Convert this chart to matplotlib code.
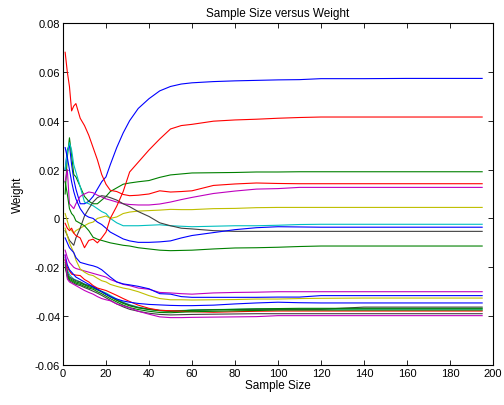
import matplotlib
matplotlib.use("Agg")
import matplotlib.pyplot as plt
from matplotlib.ticker import FuncFormatter

plt.rcParams['font.family'] = ['Liberation Sans', 'DejaVu Sans']
plt.rcParams['axes.unicode_minus'] = False

sample = [1, 2, 3, 4, 5, 6, 8, 10, 12, 14, 16, 18, 20, 22, 25, 28, 31, 35, 40,
          45, 50, 55, 60, 70, 80, 90, 100, 110, 120, 140, 160, 180, 195]

# MATLAB default colour order
C_B = (0, 0, 1)
C_G = (0, 0.5, 0)
C_R = (1, 0, 0)
C_C = (0, 0.75, 0.75)
C_M = (0.75, 0, 0.75)
C_Y = (0.75, 0.75, 0)
C_K = (0.25, 0.25, 0.25)

blue1 = [0.020, 0.028, 0.030, 0.022, 0.016, 0.012, 0.006, 0.006, 0.007, 0.009, 0.012, 0.015, 0.017,
         0.022, 0.029, 0.035, 0.040, 0.045, 0.049, 0.0522, 0.0540, 0.055, 0.0555, 0.056, 0.0563,
         0.0565, 0.0567, 0.0568, 0.0572, 0.0572, 0.0573, 0.0573, 0.0573]
redA = [0.068, 0.060, 0.054, 0.044, 0.046, 0.047, 0.041, 0.038, 0.034, 0.029, 0.024, 0.018, 0.014,
        0.0115, 0.011, 0.0098, 0.0093, 0.0095, 0.010, 0.0113, 0.0108, 0.011, 0.0113, 0.0135, 0.0141,
        0.0145, 0.0143, 0.0142, 0.0142, 0.0142, 0.0142, 0.0142, 0.0142]
redB = [-0.002, -0.004, -0.005, -0.004, -0.006, -0.007, -0.008, -0.012, -0.009, -0.0085, -0.010,
        -0.008, -0.0056, 0.0, 0.005, 0.011, 0.019, 0.023, 0.028, 0.0325, 0.0366, 0.038, 0.0385,
        0.0398, 0.0403, 0.0406, 0.041, 0.0413, 0.0415, 0.0415, 0.0415, 0.0415, 0.0415]
green1 = [0.010, 0.025, 0.033, 0.026, 0.018, 0.017, 0.013, 0.009, 0.007, 0.006, 0.006, 0.0075, 0.009,
          0.011, 0.0125, 0.014, 0.0145, 0.015, 0.0155, 0.0168, 0.0178, 0.0182, 0.0186, 0.0187,
          0.0188, 0.019, 0.019, 0.0191, 0.0191, 0.0191, 0.0191, 0.0191, 0.0191]
magenta1 = [0.015, 0.020, 0.006, 0.005, 0.004, 0.006, 0.009, 0.010, 0.0108, 0.0105, 0.0095, 0.0088,
            0.008, 0.0075, 0.0067, 0.006, 0.0057, 0.0055, 0.0055, 0.0059, 0.0067, 0.0077, 0.0086,
            0.0102, 0.0112, 0.012, 0.0122, 0.0127, 0.0127, 0.0127, 0.0127, 0.0127, 0.0127]
yellow1 = [0.002, -0.001, -0.004, -0.005, -0.006, -0.005, -0.004, -0.003, -0.002, -0.0015, 0.0,
           0.0005, 0.001, 0.0, 0.0006, 0.002, 0.0026, 0.003, 0.0032, 0.0034, 0.0037, 0.0036, 0.0036,
           0.004, 0.0041, 0.0044, 0.0045, 0.0045, 0.0045, 0.0045, 0.0045, 0.0045, 0.0045]
cyan1 = [0.020, 0.027, 0.031, 0.028, 0.022, 0.019, 0.013, 0.0067, 0.006, 0.0052, 0.004, 0.0028, 0.002,
         0.0, -0.0018, -0.003, -0.003, -0.003, -0.0028, -0.0026, -0.003, -0.0032, -0.0034, -0.0032,
         -0.003, -0.003, -0.0028, -0.0025, -0.0024, -0.0024, -0.0024, -0.0024, -0.0024]
blue2 = [0.029, 0.025, 0.020, 0.015, 0.011, 0.008, 0.004, 0.0015, 0.0005, 0.0, -0.0015, -0.0025,
         -0.004, -0.0056, -0.007, -0.0084, -0.0092, -0.0098, -0.0098, -0.0096, -0.0092, -0.008,
         -0.007, -0.0058, -0.0046, -0.0038, -0.0034, -0.0035, -0.0036, -0.0036, -0.0036, -0.0036, -0.0036]
gray1 = [-0.005, -0.007, -0.009, -0.010, -0.011, -0.008, -0.004, 0.001, 0.004, 0.0067, 0.0085, 0.0093,
         0.009, 0.0085, 0.0075, 0.006, 0.0048, 0.0028, 0.0008, -0.0018, -0.003, -0.004, -0.0043,
         -0.005, -0.0053, -0.0053, -0.0053, -0.0053, -0.0053, -0.0053, -0.0053, -0.0053, -0.0053]
green2 = [0.015, 0.010, 0.004, 0.002, 0.001, -0.001, -0.002, -0.003, -0.005, -0.0077, -0.0085, -0.009,
          -0.0095, -0.010, -0.0105, -0.011, -0.0113, -0.012, -0.0125, -0.013, -0.0132, -0.0131,
          -0.013, -0.0125, -0.0121, -0.012, -0.0118, -0.0115, -0.0113, -0.0113, -0.0113, -0.0113, -0.0113]
magenta2 = [-0.013, -0.016, -0.018, -0.019, -0.020, -0.0205, -0.021, -0.0215, -0.022, -0.0225, -0.023,
            -0.0235, -0.024, -0.025, -0.026, -0.027, -0.0275, -0.0285, -0.029, -0.0303, -0.0305,
            -0.0308, -0.031, -0.0305, -0.0303, -0.0302, -0.030, -0.030, -0.030, -0.030, -0.030, -0.030, -0.030]
blue3 = [-0.008, -0.010, -0.012, -0.013, -0.014, -0.016, -0.018, -0.0185, -0.019, -0.0194, -0.020,
         -0.021, -0.0225, -0.024, -0.026, -0.0268, -0.0272, -0.0278, -0.0288, -0.0308, -0.031, -0.032,
         -0.0323, -0.0323, -0.0323, -0.0323, -0.0322, -0.0322, -0.0316, -0.0316, -0.0316, -0.0316, -0.0316]
yellow2 = [-0.004, -0.007, -0.010, -0.012, -0.014, -0.017, -0.0207, -0.022, -0.023, -0.0234, -0.0245,
           -0.0255, -0.026, -0.027, -0.0278, -0.0285, -0.029, -0.030, -0.0316, -0.0328, -0.0333,
           -0.0333, -0.0334, -0.0333, -0.0332, -0.033, -0.033, -0.0328, -0.0327, -0.0326, -0.0326,
           -0.0326, -0.0326]
blue4 = [-0.015, -0.019, -0.021, -0.022, -0.023, -0.024, -0.025, -0.026, -0.027, -0.028, -0.029,
         -0.030, -0.031, -0.032, -0.033, -0.0338, -0.0343, -0.0348, -0.0352, -0.0354, -0.0356,
         -0.0357, -0.0357, -0.0355, -0.035, -0.0346, -0.0343, -0.0345, -0.0346, -0.0346, -0.0346,
         -0.0346, -0.0346]
gray2 = [-0.017, -0.022, -0.024, -0.0245, -0.025, -0.0255, -0.026, -0.027, -0.0275, -0.028, -0.029,
         -0.030, -0.031, -0.032, -0.0335, -0.0345, -0.0355, -0.0365, -0.0372, -0.0377, -0.038,
         -0.0378, -0.0376, -0.0374, -0.0373, -0.0372, -0.0372, -0.0372, -0.0372, -0.0363, -0.0363,
         -0.0363, -0.0363]
green3 = [-0.018, -0.023, -0.0245, -0.025, -0.0255, -0.026, -0.0265, -0.0272, -0.028, -0.0285, -0.0293,
          -0.030, -0.031, -0.032, -0.0335, -0.0348, -0.0358, -0.0366, -0.0373, -0.0378, -0.038,
          -0.0378, -0.0376, -0.0374, -0.0372, -0.037, -0.0369, -0.0368, -0.0368, -0.0368, -0.0368,
          -0.0368, -0.0368]
cyan2 = [-0.016, -0.021, -0.023, -0.024, -0.0248, -0.0252, -0.026, -0.0268, -0.0275, -0.028, -0.029,
         -0.0298, -0.0305, -0.0315, -0.033, -0.0343, -0.0353, -0.0363, -0.0371, -0.0376, -0.0378,
         -0.0377, -0.0375, -0.0373, -0.0372, -0.0371, -0.0371, -0.0371, -0.0371, -0.0371, -0.0371,
         -0.0371, -0.0371]
green4 = [-0.019, -0.0235, -0.025, -0.0255, -0.026, -0.0265, -0.027, -0.0278, -0.0285, -0.029, -0.030,
          -0.0308, -0.0318, -0.0328, -0.0342, -0.0355, -0.0365, -0.0373, -0.038, -0.0385, -0.0386,
          -0.0384, -0.0382, -0.038, -0.0378, -0.0377, -0.0375, -0.0375, -0.0375, -0.0375, -0.0375,
          -0.0375, -0.0375]
red2 = [-0.017, -0.020, -0.0215, -0.0228, -0.023, -0.0232, -0.0234, -0.025, -0.026, -0.0275, -0.0285,
        -0.029, -0.0295, -0.0303, -0.0315, -0.0328, -0.034, -0.0355, -0.0368, -0.0376, -0.0378,
        -0.038, -0.0382, -0.0384, -0.0382, -0.038, -0.0379, -0.0379, -0.0379, -0.0379, -0.0379,
        -0.0379, -0.0379]
gray3 = [-0.020, -0.024, -0.0255, -0.026, -0.0265, -0.027, -0.0275, -0.0283, -0.029, -0.0298, -0.0306,
         -0.0315, -0.0325, -0.0335, -0.035, -0.0362, -0.0372, -0.038, -0.0388, -0.0393, -0.0395,
         -0.0394, -0.0393, -0.0392, -0.0391, -0.039, -0.039, -0.039, -0.039, -0.039, -0.039, -0.039, -0.039]
magenta3 = [-0.015, -0.0248, -0.026, -0.0265, -0.027, -0.0275, -0.0285, -0.0295, -0.0303, -0.031,
            -0.032, -0.0328, -0.0333, -0.0337, -0.035, -0.0358, -0.0366, -0.038, -0.0392, -0.0403,
            -0.0406, -0.0406, -0.0405, -0.0404, -0.0403, -0.0402, -0.0398, -0.0398, -0.0398, -0.0398,
            -0.0398, -0.0398, -0.0398]

series = [
    (blue1, C_B), (green1, C_G), (redA, C_R), (cyan1, C_C), (magenta1, C_M), (yellow1, C_Y),
    (gray1, C_K), (blue2, C_B), (green2, C_G), (redB, C_R), (cyan2, C_C), (magenta2, C_M),
    (yellow2, C_Y), (gray2, C_K), (blue3, C_B), (green3, C_G), (red2, C_R), (gray3, C_K),
    (blue4, C_B), (green4, C_G), (magenta3, C_M),
]

xticks = [0, 20, 40, 60, 80, 100, 120, 140, 160, 180, 200]
yticks = [-0.06, -0.04, -0.02, 0, 0.02, 0.04, 0.06, 0.08]

fig = plt.figure(figsize=(5.04, 4.06), dpi=100)
ax = fig.add_axes([0.125, 0.0985, 0.853, 0.8425])
for vals, col in series:
    ax.plot(sample, vals, color=col, linewidth=0.8)

ax.set_xlim(0, 200)
ax.set_ylim(-0.06, 0.08)
ax.set_xticks(xticks)
ax.set_yticks(yticks)
ax.yaxis.set_major_formatter(FuncFormatter(lambda v, p: "0" if abs(v) < 1e-12 else ("%g" % v)))
ax.tick_params(direction='in', length=3.5, width=0.6, top=True, right=True,
               labelsize=8, pad=2)
for sp in ax.spines.values():
    sp.set_linewidth(0.8)

ax.set_title("Sample Size versus Weight", fontsize=8.5, pad=5)
ax.set_xlabel("Sample Size", fontsize=8.5, labelpad=1)
ax.set_ylabel("Weight", fontsize=8.5, labelpad=8)

fig.savefig("out.png", dpi=100)
